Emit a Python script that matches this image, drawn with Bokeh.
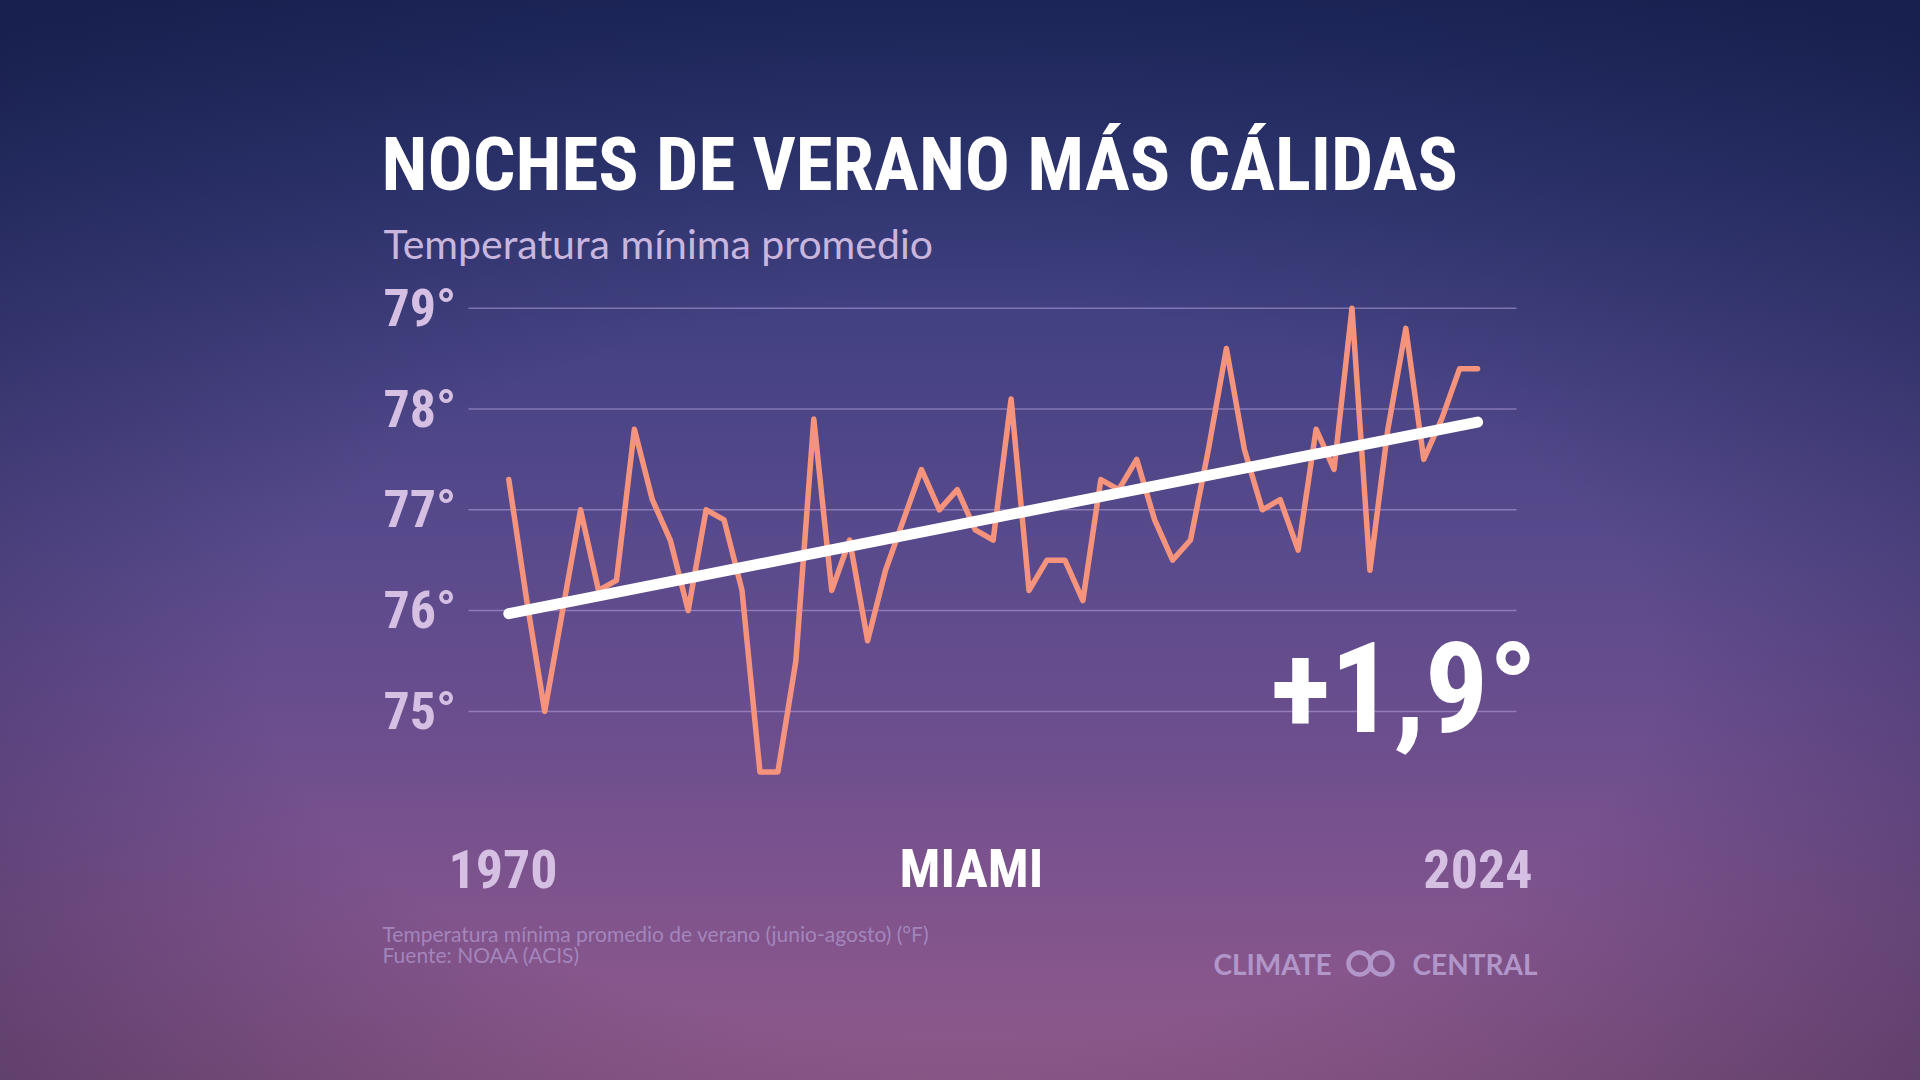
from bokeh.plotting import figure
from bokeh.models import Label, ColumnDataSource, Range1d
from bokeh.core.properties import value
from bokeh.embed import file_html
from bokeh.resources import INLINE

# ---------------- data ----------------
years = list(range(1970, 2025))
tmin = [77.3, 76.1, 75.0, 76.0, 77.0, 76.2, 76.3, 77.8, 77.1, 76.7,
        76.0, 77.0, 76.9, 76.2, 74.4, 74.4, 75.5, 77.9, 76.2, 76.7,
        75.7, 76.4, 76.9, 77.4, 77.0, 77.2, 76.8, 76.7, 78.1, 76.2,
        76.5, 76.5, 76.1, 77.3, 77.2, 77.5, 76.9, 76.5, 76.7, 77.6,
        78.6, 77.6, 77.0, 77.1, 76.6, 77.8, 77.4, 79.0, 76.4, 77.8,
        78.8, 77.5, 77.9, 78.4, 78.4]
trend_years = [1970, 2024]
trend = [75.97, 77.87]
yticks = [75, 76, 77, 78, 79]
ytick_labels = ["75°", "76°", "77°", "78°", "79°"]
city = "MIAMI"
title = "NOCHES DE VERANO MÁS CÁLIDAS"
subtitle = "Temperatura mínima promedio"
note1 = "Temperatura mínima promedio de verano (junio-agosto) (°F)"
note2 = "Fuente: NOAA (ACIS)"

# ---------------- layout helpers ----------------
W, H = 1920, 1080
SX = 17.94     # px per year
SY = 100.8     # px per degree
X0 = years[0] - 508.3 / SX
YT = 79 + 307.7 / SY


def X(px):
    return X0 + px / SX


def Y(py):
    return YT - py / SY


COND = "'Roboto Condensed', 'Liberation Sans Narrow', 'DejaVu Sans Condensed', Roboto, sans-serif"
SANS = "Lato, 'Open Sans', sans-serif"

p = figure(width=W, height=H,
           x_range=Range1d(X0, X0 + W / SX), y_range=Range1d(YT - H / SY, YT),
           output_backend="svg", toolbar_location=None,
           x_axis_type=None, y_axis_type=None, min_border=0,
           outline_line_color=None, background_fill_alpha=0, border_fill_alpha=0)
p.grid.visible = False
p.styles = {
    "background": (
        "radial-gradient(ellipse 80% 75% at 50% 62%, rgba(0,0,0,0) 45%, rgba(12,18,55,0.55) 100%),"
        "linear-gradient(180deg, #25306a 0%, #333a77 15%, #454283 32%, #584a8c 50%, #6c4e8e 68%, #81548d 85%, #8f5989 100%)"
    )
}

# grid lines + tick labels
gsrc = ColumnDataSource(dict(x0=[X(468)] * len(yticks), x1=[X(1516)] * len(yticks),
                             y=yticks, lab=ytick_labels, lx=[X(383)] * len(yticks)))
p.segment(x0="x0", x1="x1", y0="y", y1="y", source=gsrc,
          line_color="#b7a3dc", line_alpha=0.55, line_width=1.5)
p.text(x="lx", y="y", text="lab", source=gsrc, text_font=value(COND),
       text_font_style="bold", text_font_size="52px", text_color="#d5bfe3",
       text_baseline="middle", text_align="left")

# data
p.line(years, tmin, line_color="#f6937c", line_width=5.5, line_join="round", line_cap="round")
p.line(trend_years, trend, line_color="white", line_width=11, line_cap="round")


# texts
def lab(x, y, text, font, size, color, style="normal", align="left", alpha=1.0):
    p.add_layout(Label(x=x, y=y, text=text, text_font=font, text_font_size=size,
                       text_color=color, text_font_style=style, text_align=align,
                       text_baseline="middle", text_alpha=alpha))


lab(X(381), Y(163), title, COND, "75px", "white", style="bold")
lab(X(383), Y(243), subtitle, SANS, "41px", "#c9b6de")

change = trend[-1] - trend[0]
lab(X(1537), Y(688), ("+%.1f°" % change).replace(".", ","), COND, "126px", "white",
    style="bold", align="right")

lab(X(448), Y(868), str(years[0]), COND, "54px", "#d5bfe3", style="bold")
lab(X(1532), Y(868), str(years[-1]), COND, "54px", "#d5bfe3", style="bold", align="right")
lab(X(971), Y(868), city, COND, "54px", "white", style="bold", align="center")

lab(X(382), Y(933), note1, SANS, "21px", "#a98cc2", alpha=0.9)
lab(X(382), Y(954), note2, SANS, "21px", "#a98cc2", alpha=0.9)

lab(X(1213), Y(963), "CLIMATE", SANS, "28px", "#b196c9", style="bold")
lab(X(1537), Y(963), "CENTRAL", SANS, "28px", "#b196c9", style="bold", align="right")
p.scatter(x=[X(1359), X(1381)], y=[Y(963), Y(963)], size=22, marker="circle",
          fill_alpha=0, line_color="#b196c9", line_width=4.5)

open("out.html", "w").write(file_html(p, INLINE))
